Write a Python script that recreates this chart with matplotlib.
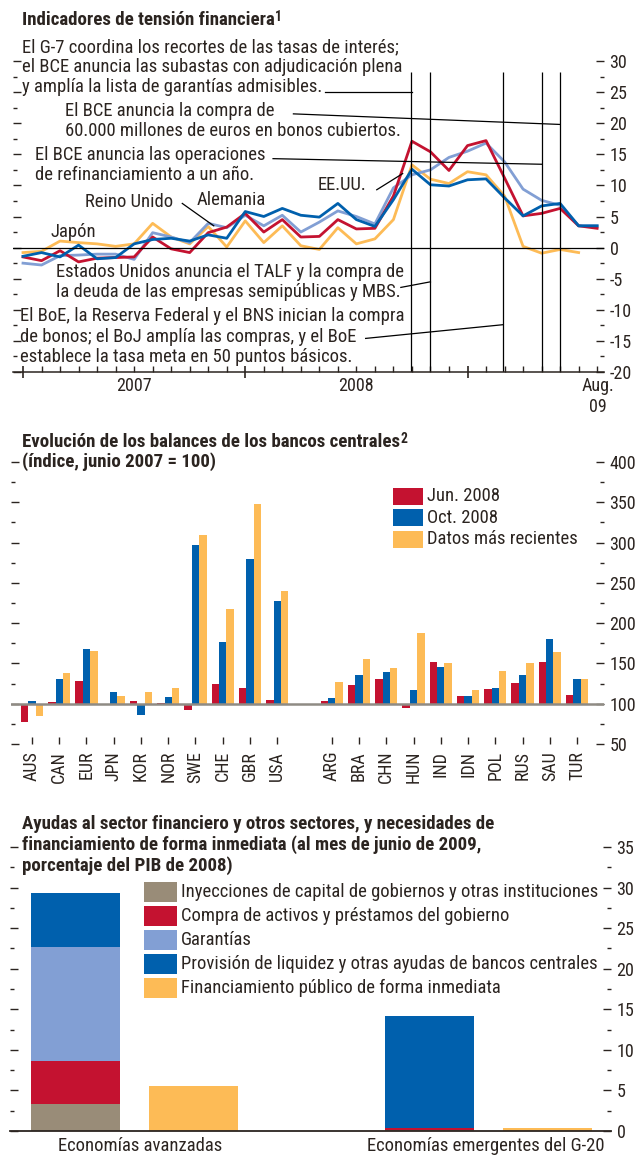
import matplotlib
matplotlib.use('Agg')
import matplotlib.pyplot as plt
import matplotlib.transforms as mtransforms
from matplotlib import font_manager
from matplotlib.patches import Rectangle
from matplotlib.ticker import MultipleLocator, FixedLocator
import numpy as np

W, H = 638, 1157

# Fuente estrecha si existe
_nombres = set(f.name for f in font_manager.fontManager.ttflist)
FUENTE = 'DejaVu Sans'
for nombre in ['Liberation Sans Narrow', 'Roboto Condensed', 'Open Sans Condensed']:
    if nombre in _nombres:
        FUENTE = nombre
        break
FS = 1.0 if FUENTE != 'DejaVu Sans' else 0.8
NORMAL = 13 * FS
NOTAS = 13.4 * FS
NEGRITA = 13.6 * FS

TEXTO = '#2b2420'
plt.rcParams['font.family'] = [FUENTE, 'DejaVu Sans']
plt.rcParams['axes.unicode_minus'] = False
plt.rcParams['text.color'] = TEXTO
plt.rcParams['xtick.color'] = TEXTO
plt.rcParams['ytick.color'] = TEXTO
plt.rcParams['font.size'] = NORMAL

ROJO = '#c41230'
AZUL = '#0060ad'
AMARILLO = '#fdbb56'
CELESTE = '#829fd4'
GRIS = '#998c78'

# Panel 1: indicadores de tensión financiera (meses desde enero de 2007)
meses = list(range(32))
eeuu = [-1.5, -2.1, -0.5, -2.3, -1.7, -1.6, -1.5, 1.7, -0.2, -0.8, 2.4, 3.3,
        5.5, 2.5, 4.5, 1.7, 1.8, 4.5, 3.0, 3.1, 8.3, 17.1, 15.4, 12.4,
        16.4, 17.2, 11.2, 5.1, 5.5, 6.3, 3.5, 3.1]
alemania = [-1.4, -0.8, -1.5, 0.4, -1.8, -1.6, 0.6, 1.3, 1.5, 1.05, 2.05, 1.5,
            5.8, 5.0, 6.3, 5.2, 4.9, 7.1, 4.5, 3.4, 7.7, 12.6, 10.1, 9.9,
            10.9, 11.05, 8.0, 5.1, 6.7, 7.1, 3.5, 3.5]
reino_unido = [-2.5, -2.8, -1.3, -1.2, -1.05, -1.05, -1.9, 2.4, 1.7, 0.8, 3.9,
               3.2, 5.2, 3.5, 5.2, 2.5, 4.1, 5.9, 5.0, 3.8, 9.6, 11.7, 12.5,
               14.5, 15.5, 16.8, 13.8, 9.4, 7.6, 6.8, 3.5, 3.5]
japon = [-0.8, -0.6, 1.05, 0.8, 0.6, 0.2, 0.6, 3.9, 1.7, 0.6, 3.4, 0.1,
         4.3, 0.8, 3.5, 0.3, -0.3, 3.2, 0.6, 1.4, 4.5, 13.3, 11.0, 10.3,
         12.2, 11.7, 8.3, 0.2, -0.9, -0.3, -0.8]
eventos = [20.96, 22.0, 25.9, 28.0, 29.0]

# Panel 2: balances de los bancos centrales (índice, junio 2007 = 100)
paises = ['AUS', 'CAN', 'EUR', 'JPN', 'KOR', 'NOR', 'SWE', 'CHE', 'GBR', 'USA',
          'ARG', 'BRA', 'CHN', 'HUN', 'IND', 'IDN', 'POL', 'RUS', 'SAU', 'TUR']
jun_2008 = [77, 102, 128, 98, 103, 100.5, 92, 125, 120, 105,
            103, 123, 131, 95, 152, 109, 118, 126, 152, 111]
oct_2008 = [103, 131, 168, 115, 86, 108, 297, 176, 280, 227,
            107, 136, 139, 117, 146, 109, 120, 136, 180, 131]
recientes = [85, 138, 165, 110, 114, 119, 309, 217, 348, 240,
             127, 155, 144, 188, 151, 117, 141, 150, 164, 131]

# Panel 3: ayudas al sector financiero (% del PIB de 2008)
grupos = ['Economías avanzadas', 'Economías emergentes del G-20']
inyecciones = [3.3, 0.15]
compra_activos = [5.3, 0.2]
garantias = [14.1, 0.0]
liquidez = [6.6, 13.85]
financiamiento = [5.6, 0.33]


fig = plt.figure(figsize=(W / 100, H / 100), dpi=100)


def px_axes(left, top, right, bottom):
    return fig.add_axes([left / W, 1 - bottom / H, (right - left) / W,
                         (bottom - top) / H])


def ejes_y(ax, mayor, menor):
    ax.yaxis.set_major_locator(MultipleLocator(mayor))
    ax.yaxis.set_minor_locator(MultipleLocator(menor))
    ax.tick_params(axis='y', which='both', direction='in', left=True,
                   right=True, labelleft=False, labelright=True, width=1,
                   pad=4, labelsize=NORMAL)
    ax.tick_params(axis='y', which='major', length=6)
    ax.tick_params(axis='y', which='minor', length=3)
    for lado in ['top', 'left', 'right']:
        ax.spines[lado].set_visible(False)


def leyenda(items, x, y0, paso, ancho, alto):
    for i, (etiqueta, color) in enumerate(items):
        yc = y0 + i * paso
        fig.add_artist(Rectangle((x / W, 1 - (yc + alto / 2) / H), ancho / W,
                                 alto / H, transform=fig.transFigure,
                                 color=color, lw=0))
        fig.text((x + ancho + 4) / W, 1 - yc / H, etiqueta, va='center',
                 size=NOTAS)


def titulo(y, texto, nota, interlineado=1.1):
    t = fig.text(22 / W, 1 - y / H, texto, weight='bold', size=NEGRITA,
                 va='center', linespacing=interlineado)
    # la llamada va al final de la primera linea
    primera = fig.text(22 / W, 0, texto.split('\n')[0], weight='bold',
                       size=NEGRITA, alpha=0)
    fig.canvas.draw()
    ancho = primera.get_window_extent().width
    arriba = t.get_window_extent().y1
    fig.text((22 + ancho) / W, (arriba + 1) / H, nota, weight='bold',
             size=NEGRITA * 0.72, va='top', ha='left')
    primera.remove()


# ---------------- Panel 1 ----------------
ax1 = px_axes(13, 61, 604, 372)
ax1.plot(meses[:len(japon)], japon, color=AMARILLO, lw=2)
ax1.plot(meses, reino_unido, color=CELESTE, lw=2)
ax1.plot(meses, eeuu, color=ROJO, lw=2)
ax1.plot(meses, alemania, color=AZUL, lw=2)
ax1.axhline(0, color='black', lw=0.9)
ax1.vlines(eventos, -20, 28.2, color='black', lw=0.9)
ax1.set_xlim(-0.54, 31.37)
ax1.set_ylim(-20, 30)
ejes_y(ax1, 5, 2.5)
ax1.spines['bottom'].set_linewidth(1.1)
ax1.spines['bottom'].set_color(TEXTO)
ax1.xaxis.set_major_locator(FixedLocator([0, 12, 24]))
ax1.xaxis.set_minor_locator(FixedLocator(meses))
ax1.tick_params(axis='x', which='major', direction='inout', length=8,
                width=1.2, labelbottom=False)
ax1.tick_params(axis='x', which='minor', direction='in', length=4, width=1)
tr1 = mtransforms.blended_transform_factory(ax1.transData, ax1.transAxes)
ax1.text(6, -0.045, '2007', transform=tr1, ha='center', va='center')
ax1.text(18, -0.045, '2008', transform=tr1, ha='center', va='center')
ax1.text(31.05, -0.078, 'Aug.\n09', transform=tr1, ha='center', va='center',
         linespacing=1.25)

notas = [
    (-0.05, 29.0, 'El G-7 coordina los recortes de las tasas de interés;\n'
                  'el BCE anuncia las subastas con adjudicación plena\n'
                  'y amplía la lista de garantías admisibles.'),
    (2.27, 20.4, 'El BCE anuncia la compra de\n'
                 '60.000 millones de euros en bonos cubiertos.'),
    (0.65, 13.3, 'El BCE anuncia las operaciones\n'
                 'de refinanciamiento a un año.'),
    (15.9, 10.1, 'EE.UU.'),
    (3.35, 7.4, 'Reino Unido'),
    (9.4, 7.7, 'Alemania'),
    (1.46, 2.5, 'Japón'),
    (1.8, -5.6, 'Estados Unidos anuncia el TALF y la compra de\n'
                'la deuda de las empresas semipúblicas y MBS.'),
    (-0.16, -14.3, 'El BoE, la Reserva Federal y el BNS inician la compra\n'
                   'de bonos; el BoJ amplía las compras, y el BoE\n'
                   'establece la tasa meta en 50 puntos básicos.'),
]
for x, y, texto in notas:
    ax1.text(x, y, texto, ha='left', va='center', linespacing=1.15,
             size=NOTAS)

guias = [
    ((16.3, 21.0), (25.0, 25.0)),
    ((14.6, 29.0), (21.5, 19.8)),
    ((13.5, 28.0), (14.3, 13.4)),
    ((19.1, 20.5), (9.3, 11.9)),
    ((8.6, 10.3), (7.1, 3.5)),
    ((20.4, 22.0), (-6.4, -5.5)),
    ((18.5, 25.9), (-14.6, -12.4)),
]
for xs, ys in guias:
    ax1.plot(xs, ys, color='black', lw=0.9)

titulo(20, 'Indicadores de tensión financiera', '1')

# ---------------- Panel 2 ----------------
ax2 = px_axes(11, 462, 604, 744)
pos = np.array(list(range(10)) + list(range(11, 21)))
ancho = 0.27
ax2.bar(pos - ancho, np.array(jun_2008) - 100, bottom=100, width=ancho,
        color=ROJO, lw=0)
ax2.bar(pos, np.array(oct_2008) - 100, bottom=100, width=ancho,
        color=AZUL, lw=0)
ax2.bar(pos + ancho, np.array(recientes) - 100, bottom=100, width=ancho,
        color=AMARILLO, lw=0)
ax2.axhline(100, color='#8f8b84', lw=1.8)
ax2.set_xlim(-0.77, 20.99)
ax2.set_ylim(50, 400)
ejes_y(ax2, 50, 25)
ax2.spines['bottom'].set_visible(False)
ax2.set_xticks(pos)
ax2.set_xticklabels(paises, rotation=90)
ax2.tick_params(axis='x', direction='in', length=5, width=1, pad=5,
                labelsize=NORMAL)
titulo(452, 'Evolución de los balances de los bancos centrales\n'
       '(índice, junio 2007 = 100)', '2', interlineado=1.07)
leyenda([('Jun. 2008', ROJO), ('Oct. 2008', AZUL),
         ('Datos más recientes', AMARILLO)], 393, 496, 21.7, 30, 17)

# ---------------- Panel 3 ----------------
ax3 = px_axes(10, 847, 611, 1131)
x_apoyo = np.array([0, 3])
x_fin = np.array([1, 4])
ancho3 = 0.754
base = np.zeros(2)
for serie, color in [(inyecciones, GRIS), (compra_activos, ROJO),
                     (garantias, CELESTE), (liquidez, AZUL)]:
    ax3.bar(x_apoyo, serie, bottom=base, width=ancho3, color=color, lw=0)
    base = base + np.array(serie)
ax3.bar(x_fin, financiamiento, width=ancho3, color=AMARILLO, lw=0)
ax3.set_xlim(-0.555, 4.538)
ax3.set_ylim(0, 35)
ejes_y(ax3, 5, 2.5)
ax3.spines['bottom'].set_linewidth(1.3)
ax3.spines['bottom'].set_color(TEXTO)
ax3.set_xticks([0.55, 3.48])
ax3.set_xticklabels(grupos)
ax3.tick_params(axis='x', length=0, pad=4, labelsize=NOTAS)
fig.text(22 / W, 1 - 845 / H,
         'Ayudas al sector financiero y otros sectores, y necesidades de\n'
         'financiamiento de forma inmediata (al mes de junio de 2009,\n'
         'porcentaje del PIB de 2008)',
         weight='bold', size=NEGRITA, va='center', linespacing=1.16)
leyenda([('Inyecciones de capital de gobiernos y otras instituciones', GRIS),
         ('Compra de activos y préstamos del gobierno', ROJO),
         ('Garantías', CELESTE),
         ('Provisión de liquidez y otras ayudas de bancos centrales', AZUL),
         ('Financiamiento público de forma inmediata', AMARILLO)],
        144, 892, 24, 33, 20)

fig.savefig('out.png', dpi=100)
